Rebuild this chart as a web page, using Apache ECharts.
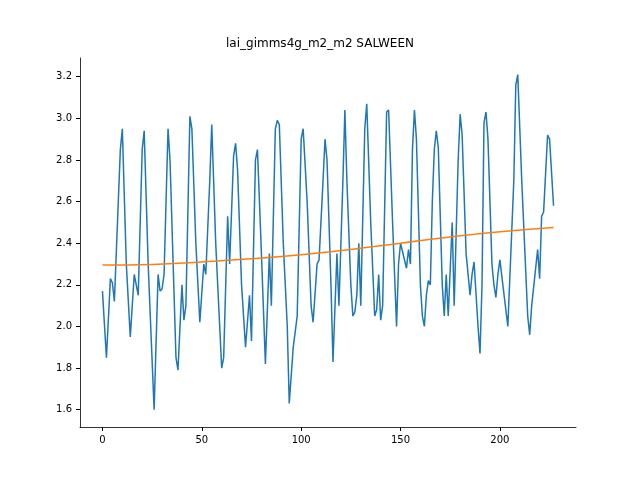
<!DOCTYPE html>
<html><head><meta charset="utf-8">
<script src="https://cdn.jsdelivr.net/npm/echarts@6/dist/echarts.min.js"></script>
<style>html,body{margin:0;padding:0;background:#fff}#c{width:640px;height:480px}</style>
</head><body><div id="c"></div>
<script>
const seriesX = [0,2,4,5,6,9,10,12,14,16,17,18,20,21,23,26,28,29,30,31,33,34,37,38,40,41,42,44,45,47,49,51,52,54,55,57,59,60,61,63,64,66,67,68,70,72,74,75,77,78,80,82,84,85,87,88,89,91,93,94,96,98,100,101,103,105,106,108,109,111,112,113,115,116,118,119,121,122,123,125,126,127,128,129,130,132,133,135,137,138,139,140,141,143,144,146,148,149,150,151,153,154,155,156,157,158,160,161,162,163,164,165,166,167,168,169,171,172,173,174,176,177,179,180,181,183,185,186,187,189,190,191,192,193,194,196,197,198,199,200,204,207,208,209,211,214,215,216,219,220,221,222,224,225,227];
const seriesY = [2.17,1.85,2.23,2.21,2.12,2.85,2.95,2.30,1.95,2.25,2.20,2.15,2.85,2.94,2.30,1.60,2.25,2.17,2.18,2.25,2.95,2.80,1.85,1.79,2.20,2.03,2.10,3.01,2.95,2.40,2.02,2.30,2.25,2.70,2.97,2.40,2.00,1.80,1.85,2.53,2.30,2.82,2.88,2.75,2.20,1.90,2.15,1.93,2.80,2.85,2.35,1.82,2.35,2.10,2.95,2.99,2.97,2.40,2.00,1.63,1.90,2.05,2.90,2.95,2.60,2.10,2.02,2.30,2.32,2.70,2.90,2.80,2.20,1.83,2.35,2.10,2.70,3.04,2.70,2.20,2.05,2.07,2.15,2.40,2.10,2.95,3.07,2.50,2.05,2.08,2.25,2.03,2.10,3.03,3.04,2.50,2.00,2.30,2.40,2.40,2.28,2.37,2.30,2.85,3.04,2.90,2.20,2.05,2.00,2.15,2.22,2.20,2.60,2.85,2.94,2.86,2.20,2.05,2.25,2.05,2.50,2.10,2.80,3.02,2.92,2.35,2.15,2.25,2.31,2.00,1.87,2.20,2.98,3.03,2.90,2.30,2.20,2.14,2.25,2.32,2.00,2.70,3.16,3.21,2.70,2.05,1.96,2.10,2.37,2.23,2.53,2.55,2.92,2.90,2.58];
const trendX = [0,25,50,75,100,125,150,175,200,227];
const trendY = [2.295,2.298,2.31,2.325,2.345,2.37,2.40,2.43,2.455,2.475];
const xTicks = [0,50,100,150,200];
const yTicks = [1.6,1.8,2.0,2.2,2.4,2.6,2.8,3.0,3.2];
const pairs = (xs, ys) => xs.map((x, i) => [x, ys[i]]);
const chart = echarts.init(document.getElementById('c'));
const line = {show:true,onZero:false,lineStyle:{color:'#000',width:0.8}};
const lbl = {color:'#000',fontSize:10,fontFamily:'DejaVu Sans'};
chart.setOption({
  animation:false,
  title:{text:'lai_gimms4g_m2_m2 SALWEEN',left:'center',top:33,textStyle:{fontSize:12,fontWeight:'normal',color:'#000',fontFamily:'DejaVu Sans'}},
  grid:{left:80,right:64,top:58,bottom:53},
  xAxis:{type:'value',min:-11.3,max:238.3,axisLine:line,splitLine:{show:false},
    axisTick:{show:true,length:4,customValues:xTicks,lineStyle:{color:'#000'}},
    axisLabel:Object.assign({customValues:xTicks},lbl)},
  yAxis:{type:'value',min:1.517,max:3.29,axisLine:line,splitLine:{show:false},
    axisTick:{show:true,length:4,customValues:yTicks,lineStyle:{color:'#000'}},
    axisLabel:Object.assign({customValues:yTicks,formatter:v=>v.toFixed(1)},lbl)},
  series:[
    {type:'line',data:pairs(seriesX,seriesY),showSymbol:false,lineStyle:{color:'#1f77b4',width:1.5},itemStyle:{color:'#1f77b4'}},
    {type:'line',data:pairs(trendX,trendY),showSymbol:false,smooth:true,lineStyle:{color:'#ff7f0e',width:1.5},itemStyle:{color:'#ff7f0e'}}
  ]
});
</script></body></html>
